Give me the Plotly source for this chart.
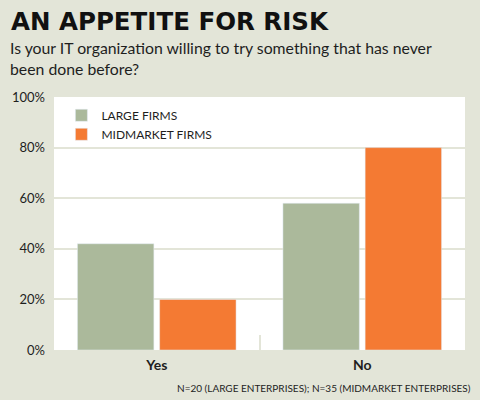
import plotly.graph_objs as go

categories = ['Yes', 'No']
large_firms = [42, 58]
midmarket_firms = [20, 80]
y_ticks = [0, 20, 40, 60, 80, 100]
y_tick_labels = ['0%', '20%', '40%', '60%', '80%', '100%']

BG = '#e3e5d8'
GREEN = '#abb99b'
ORANGE = '#f47a33'
TEXT = '#1e1e1e'

fig = go.Figure()
fig.add_trace(go.Bar(x=categories, y=large_firms, name='LARGE FIRMS',
                     marker=dict(color=GREEN)))
fig.add_trace(go.Bar(x=categories, y=midmarket_firms, name='MIDMARKET FIRMS',
                     marker=dict(color=ORANGE)))

fig.update_layout(
    width=480, height=400,
    margin=dict(l=52, r=15, t=97, b=50),
    paper_bgcolor=BG,
    plot_bgcolor='white',
    barmode='group',
    bargap=0.2,
    bargroupgap=0.07,
    font=dict(family='Lato, sans-serif', color=TEXT),
    legend=dict(x=0.018, y=0.985, xanchor='left', yanchor='top',
                bgcolor='rgba(0,0,0,0)', font=dict(size=12, color=TEXT),
                itemwidth=30, tracegroupgap=0),
    showlegend=True,
)

fig.update_yaxes(range=[0, 100], tickvals=y_ticks, ticktext=y_tick_labels,
                 showgrid=True, gridcolor=BG, gridwidth=1.5, zeroline=False,
                 tickfont=dict(size=13, color=TEXT), ticks='', ticklabelstandoff=8)
fig.update_xaxes(tickfont=dict(size=14, color=TEXT, weight='bold'),
                 ticks='inside', tickson='boundaries', ticklen=15, tickcolor=BG,
                 tickwidth=1.5, showline=False, ticklabelstandoff=5)

fig.add_annotation(text='<b>AN APPETITE FOR RISK</b>', xref='paper', yref='paper',
                   x=-45 / 413, y=1 + 92 / 253, xanchor='left', yanchor='top',
                   showarrow=False,
                   font=dict(family='DejaVu Sans', size=24.5, color='#111'))
fig.add_annotation(text='Is your IT organization willing to try something that has never<br>been done before?',
                   xref='paper', yref='paper', x=-46 / 413, y=1 + 61 / 253,
                   xanchor='left', yanchor='top', align='left', showarrow=False,
                   font=dict(family='Lato', size=15.8, color=TEXT))
fig.add_annotation(text='N=20 (LARGE ENTERPRISES); N=35 (MIDMARKET ENTERPRISES)',
                   xref='paper', yref='paper', x=1 + 8 / 413, y=-30 / 253,
                   xanchor='right', yanchor='top', showarrow=False,
                   font=dict(family='Lato', size=10, color=TEXT))

fig.write_html('out.html', config=dict(displayModeBar=False),
               post_script="document.body.style.margin='0';document.body.style.overflow='hidden';")
